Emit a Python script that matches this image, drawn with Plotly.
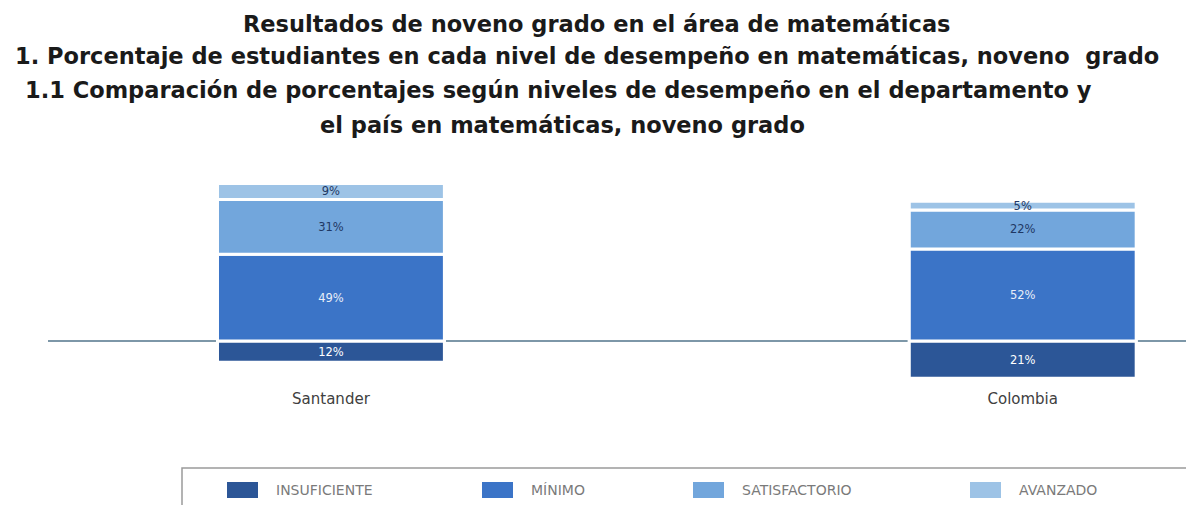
import plotly.graph_objects as go

regions = ["Santander", "Colombia"]
levels = ["INSUFICIENTE", "MÍNIMO", "SATISFACTORIO", "AVANZADO"]
insuficiente = [12, 21]
minimo = [49, 52]
satisfactorio = [31, 22]
avanzado = [9, 5]
colors = ["#2c5697", "#3b74c7", "#72a6dc", "#9dc3e6"]
text_colors = ["#ffffff", "#e8eef8", "#1f3864", "#1f3864"]
title_lines = [
    "Resultados de noveno grado en el área de matemáticas",
    "1. Porcentaje de estudiantes en cada nivel de desempeño en matemáticas, noveno  grado",
    "1.1 Comparación de porcentajes según niveles de desempeño en el departamento y",
    "el país en matemáticas, noveno grado",
]

series = [insuficiente, minimo, satisfactorio, avanzado]
xpos = [0, 1]

W, H = 1186, 505
L, T, B = 48, 180, 117
plot_h = H - T - B
base_px = 341
scale = 1.77

def py(p):
    return (H - B - p) / plot_h

def px(p):
    return (p - L) / (W - L)

fig = go.Figure()
for i, (name, vals) in enumerate(zip(levels, series)):
    sign = -1 if i == 0 else 1
    fig.add_trace(go.Bar(
        x=xpos,
        y=[sign * v for v in vals],
        name=name,
        width=0.328,
        marker=dict(color=colors[i], line=dict(color="white", width=3)),
        text=[f"{v}%" for v in vals],
        textposition="inside",
        insidetextanchor="middle",
        textangle=0,
        constraintext="none",
        textfont=dict(family="DejaVu Sans", size=11.5, color=text_colors[i]),
        cliponaxis=False,
        showlegend=False,
    ))

ann = []
shapes = []
title_y = [24, 56, 90, 125]
title_x = [596, 587, 558, 562]
for txt, yy, xx in zip(title_lines, title_y, title_x):
    ann.append(dict(text=f"<b>{txt}</b>", xref="paper", yref="paper", x=px(xx), y=py(yy),
                    xanchor="center", yanchor="middle", showarrow=False,
                    font=dict(family="DejaVu Sans", size=22.5, color="#1a1a1a")))

# legend (drawn as box, swatches and labels)
shapes.append(dict(type="rect", xref="paper", yref="paper",
                   x0=px(182), x1=px(1192), y0=py(468), y1=py(520),
                   line=dict(color="#9a9a9a", width=1.5), fillcolor="rgba(0,0,0,0)"))
swatch_left = [227, 482, 693, 970]
for name, col, sx in zip(levels, colors, swatch_left):
    shapes.append(dict(type="rect", xref="paper", yref="paper",
                       x0=px(sx), x1=px(sx + 31), y0=py(482), y1=py(498),
                       line=dict(width=0), fillcolor=col))
    ann.append(dict(text=name, xref="paper", yref="paper", x=px(sx + 47), y=py(490),
                    xanchor="left", yanchor="middle", showarrow=False,
                    font=dict(family="DejaVu Sans", size=14, color="#7a7a7a")))

ytop = (base_px - T) / scale
ybot = -(H - B - base_px) / scale

shapes.append(dict(type="line", xref="paper", yref="y", x0=0, x1=1, y0=0, y1=0,
                   line=dict(color="#7d97a8", width=2), layer="below"))

fig.update_layout(
    width=W, height=H,
    margin=dict(l=L, r=0, t=T, b=B, pad=0),
    barmode="relative",
    plot_bgcolor="white", paper_bgcolor="white",
    annotations=ann,
    shapes=shapes,
    showlegend=False,
    xaxis=dict(range=[-0.409, 1.236], tickvals=xpos, ticktext=regions, showgrid=False,
               zeroline=False, showline=False, ticks="",
               tickfont=dict(family="DejaVu Sans", size=15, color="#404040")),
    yaxis=dict(range=[ybot, ytop], visible=False, showgrid=False, zeroline=False),
)

fig.write_html("out.html")
